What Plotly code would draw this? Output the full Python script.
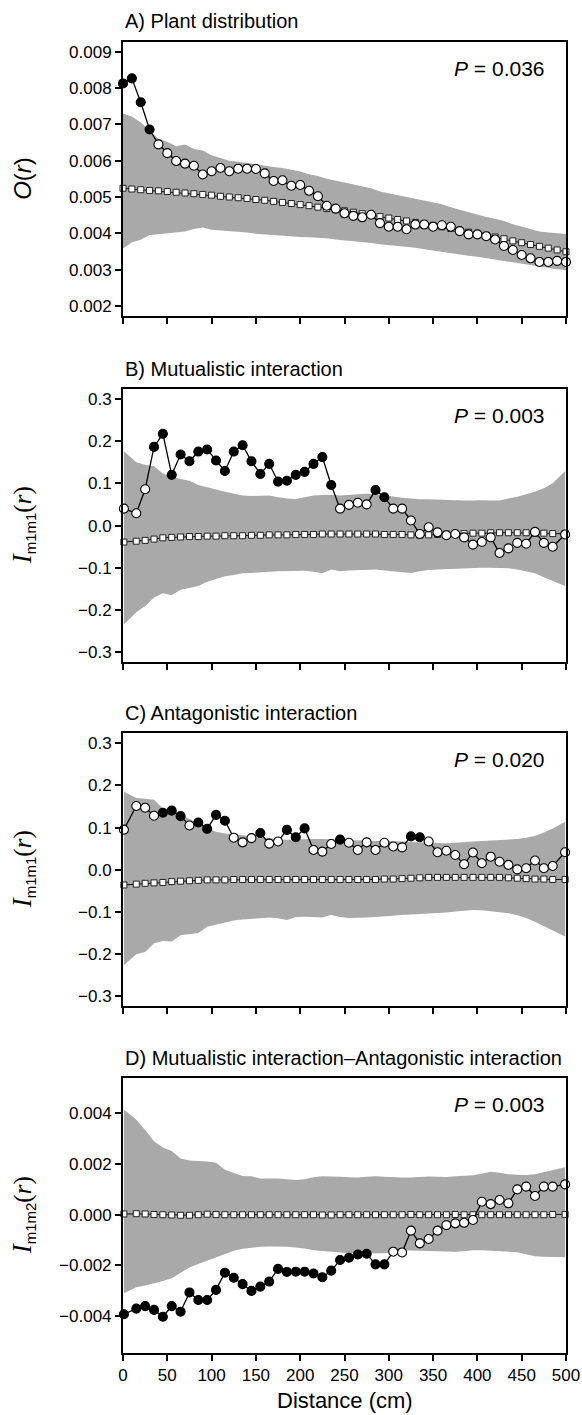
import plotly.graph_objects as go

# ---------------- data ----------------
R_A = list(range(0, 501, 10))                      # 51 distances, panel A
R_BIV = [1] + list(range(15, 486, 10)) + [499]     # 50 distances, panels B-D

OBS_A = [0.00813, 0.00827, 0.00761, 0.00686, 0.00645, 0.00621, 0.00599, 0.00592, 0.00586, 0.00562,
         0.00571, 0.00580, 0.00571, 0.00578, 0.00578, 0.00577, 0.00565, 0.00544, 0.00546, 0.00531,
         0.00533, 0.00517, 0.00502, 0.00476, 0.00468, 0.00455, 0.00448, 0.00444, 0.00451, 0.00428,
         0.00418, 0.00418, 0.00411, 0.00424, 0.00424, 0.00418, 0.00422, 0.00418, 0.00406, 0.00397,
         0.00397, 0.00392, 0.00383, 0.00365, 0.00354, 0.00340, 0.00331, 0.00321, 0.00321, 0.00324,
         0.00321]
EXP_A = [0.00524, 0.00522, 0.00520, 0.00518, 0.00517, 0.00515, 0.00513, 0.00511, 0.00509, 0.00507,
         0.00505, 0.00502, 0.00500, 0.00498, 0.00496, 0.00493, 0.00491, 0.00488, 0.00485, 0.00482,
         0.00479, 0.00476, 0.00472, 0.00468, 0.00465, 0.00462, 0.00458, 0.00454, 0.00450, 0.00446,
         0.00442, 0.00438, 0.00434, 0.00430, 0.00426, 0.00422, 0.00418, 0.00413, 0.00408, 0.00403,
         0.00398, 0.00394, 0.00390, 0.00385, 0.00379, 0.00374, 0.00369, 0.00364, 0.00359, 0.00354,
         0.00349]
HI_A = [0.00730, 0.00722, 0.00705, 0.00684, 0.00660, 0.00652, 0.00640, 0.00645, 0.00632, 0.00628,
        0.00615, 0.00607, 0.00600, 0.00597, 0.00593, 0.00590, 0.00585, 0.00583, 0.00580, 0.00576,
        0.00570, 0.00563, 0.00558, 0.00550, 0.00545, 0.00540, 0.00535, 0.00528, 0.00524, 0.00515,
        0.00510, 0.00505, 0.00500, 0.00495, 0.00490, 0.00485, 0.00480, 0.00472, 0.00465, 0.00458,
        0.00450, 0.00445, 0.00440, 0.00434, 0.00425, 0.00418, 0.00412, 0.00405, 0.00402, 0.00400,
        0.00398]
LO_A = [0.00358, 0.00375, 0.00382, 0.00395, 0.00397, 0.00400, 0.00401, 0.00405, 0.00412, 0.00416,
        0.00410, 0.00408, 0.00407, 0.00406, 0.00402, 0.00399, 0.00397, 0.00394, 0.00392, 0.00390,
        0.00390, 0.00389, 0.00388, 0.00386, 0.00383, 0.00381, 0.00378, 0.00376, 0.00373, 0.00370,
        0.00368, 0.00366, 0.00363, 0.00360, 0.00356, 0.00352, 0.00349, 0.00345, 0.00342, 0.00338,
        0.00335, 0.00331, 0.00327, 0.00323, 0.00319, 0.00316, 0.00312, 0.00308, 0.00304, 0.00301,
        0.00299]
SIG_A = [1, 1, 1, 1] + [0] * 47

OBS_B = [0.040, 0.029, 0.086, 0.186, 0.217, 0.120, 0.168, 0.152, 0.175, 0.180,
         0.154, 0.129, 0.175, 0.190, 0.152, 0.122, 0.146, 0.104, 0.106, 0.120,
         0.127, 0.146, 0.162, 0.096, 0.040, 0.049, 0.054, 0.050, 0.084, 0.067,
         0.040, 0.040, 0.012, -0.020, -0.004, -0.016, -0.023, -0.020, -0.028, -0.045,
         -0.039, -0.028, -0.065, -0.054, -0.041, -0.043, -0.015, -0.041, -0.050, -0.021]
EXP_B = [-0.039, -0.037, -0.035, -0.032, -0.029, -0.028, -0.027, -0.026, -0.026, -0.025,
         -0.025, -0.024, -0.024, -0.024, -0.023, -0.023, -0.022, -0.022, -0.022, -0.021,
         -0.021, -0.021, -0.020, -0.020, -0.020, -0.020, -0.020, -0.020, -0.020, -0.021,
         -0.021, -0.021, -0.022, -0.023, -0.022, -0.021, -0.020, -0.019, -0.019, -0.018,
         -0.018, -0.017, -0.017, -0.017, -0.017, -0.017, -0.018, -0.018, -0.019, -0.019]
HI_B = [0.176, 0.150, 0.144, 0.140, 0.123, 0.115, 0.110, 0.106, 0.096, 0.090,
        0.085, 0.080, 0.075, 0.071, 0.070, 0.070, 0.071, 0.067, 0.064, 0.063,
        0.067, 0.071, 0.072, 0.073, 0.071, 0.072, 0.073, 0.075, 0.074, 0.071,
        0.068, 0.066, 0.064, 0.062, 0.062, 0.061, 0.061, 0.060, 0.059, 0.059,
        0.060, 0.059, 0.059, 0.064, 0.068, 0.074, 0.080, 0.088, 0.100, 0.129]
LO_B = [-0.234, -0.205, -0.190, -0.170, -0.160, -0.165, -0.152, -0.148, -0.143, -0.133,
        -0.126, -0.120, -0.117, -0.113, -0.112, -0.110, -0.109, -0.108, -0.108, -0.108,
        -0.107, -0.109, -0.113, -0.104, -0.108, -0.106, -0.105, -0.104, -0.104, -0.106,
        -0.108, -0.110, -0.112, -0.108, -0.105, -0.104, -0.103, -0.102, -0.101, -0.100,
        -0.100, -0.100, -0.100, -0.101, -0.104, -0.108, -0.113, -0.122, -0.130, -0.143]
SIG_B = [0, 0, 0] + [1] * 21 + [0, 0, 0, 0, 1, 1] + [0] * 20

OBS_C = [0.095, 0.151, 0.147, 0.128, 0.135, 0.140, 0.127, 0.105, 0.112, 0.097,
         0.130, 0.116, 0.076, 0.065, 0.075, 0.087, 0.062, 0.067, 0.0945, 0.077,
         0.098, 0.047, 0.043, 0.061, 0.0715, 0.064, 0.047, 0.065, 0.047, 0.064,
         0.055, 0.053, 0.079, 0.077, 0.067, 0.0415, 0.045, 0.035, 0.013, 0.041,
         0.0155, 0.031, 0.019, 0.0115, 0.001, 0.0035, 0.022, 0.0035, 0.009, 0.0415]
EXP_C = [-0.036, -0.034, -0.032, -0.031, -0.030, -0.028, -0.027, -0.026, -0.025, -0.024,
         -0.024, -0.024, -0.023, -0.023, -0.023, -0.023, -0.023, -0.023, -0.023, -0.023,
         -0.023, -0.023, -0.023, -0.023, -0.023, -0.023, -0.023, -0.023, -0.023, -0.022,
         -0.022, -0.021, -0.020, -0.019, -0.018, -0.018, -0.018, -0.018, -0.018, -0.018,
         -0.018, -0.018, -0.018, -0.019, -0.020, -0.021, -0.022, -0.022, -0.023, -0.023]
HI_C = [0.185, 0.170, 0.168, 0.166, 0.145, 0.138, 0.130, 0.120, 0.108, 0.098,
        0.090, 0.086, 0.084, 0.082, 0.080, 0.078, 0.075, 0.072, 0.071, 0.072,
        0.073, 0.073, 0.073, 0.072, 0.071, 0.070, 0.069, 0.068, 0.068, 0.068,
        0.068, 0.067, 0.066, 0.065, 0.064, 0.063, 0.063, 0.064, 0.066, 0.067,
        0.068, 0.069, 0.070, 0.071, 0.073, 0.076, 0.080, 0.088, 0.098, 0.114]
LO_C = [-0.226, -0.200, -0.195, -0.174, -0.169, -0.170, -0.155, -0.152, -0.150, -0.135,
        -0.130, -0.124, -0.120, -0.118, -0.116, -0.114, -0.113, -0.115, -0.119, -0.112,
        -0.111, -0.112, -0.113, -0.107, -0.112, -0.114, -0.114, -0.113, -0.112, -0.110,
        -0.109, -0.107, -0.106, -0.105, -0.104, -0.103, -0.101, -0.099, -0.097, -0.095,
        -0.096, -0.098, -0.100, -0.103, -0.108, -0.114, -0.123, -0.133, -0.143, -0.158]
SIG_C = [0, 0, 0, 0, 1, 1, 1, 0, 1, 1,
         1, 1, 0, 0, 0, 1, 0, 0, 1, 1,
         1, 0, 0, 0, 1, 0, 0, 0, 0, 0,
         0, 0, 1, 1, 0, 0, 0, 0, 0, 0,
         0, 0, 0, 0, 0, 0, 0, 0, 0, 0]

OBS_D = [-0.00393, -0.00371, -0.00361, -0.00376, -0.00403, -0.00361, -0.00383, -0.00307, -0.00337, -0.00337,
         -0.00297, -0.00229, -0.00249, -0.00274, -0.00301, -0.00284, -0.00264, -0.00214, -0.00226, -0.00225,
         -0.00225, -0.00232, -0.00247, -0.00221, -0.00179, -0.00170, -0.00157, -0.00154, -0.00196, -0.00196,
         -0.00146, -0.00149, -0.00063, -0.00113, -0.00096, -0.00063, -0.00041, -0.00034, -0.00032, -0.00021,
         0.00051, 0.00042, 0.00058, 0.00045, 0.00100, 0.00111, 0.00074, 0.00111, 0.00111, 0.00120]
EXP_D = [0.00003, 0.00004, 0.00003, 0.00001, 0.0, -0.00001, -0.00002, -0.00002, 0.0, 0.00002,
         0.00001, 0.0, 0.0, 0.0, 0.0, 0.0, 0.0, 0.0, 0.0, 0.0,
         0.0, 0.0, -0.00001, -0.00001, 0.0, 0.0, 0.0, 0.0, 0.0, 0.0,
         0.0, 0.0, 0.00001, 0.0, 0.0, 0.0, 0.0, 0.00001, 0.0, 0.0,
         0.0, 0.0, 0.0, 0.0, 0.0, 0.0, 0.0, 0.0, 0.00001, 0.00001]
HI_D = [0.00416, 0.00375, 0.00335, 0.00290, 0.00265, 0.00252, 0.00222, 0.00214, 0.00212, 0.00210,
        0.00205, 0.00178, 0.00165, 0.00153, 0.00152, 0.00143, 0.00143, 0.00143, 0.00140, 0.00137,
        0.00140, 0.00148, 0.00152, 0.00152, 0.00150, 0.00148, 0.00147, 0.00150, 0.00152, 0.00150,
        0.00148, 0.00147, 0.00147, 0.00150, 0.00151, 0.00150, 0.00149, 0.00152, 0.00154, 0.00156,
        0.00162, 0.00170, 0.00166, 0.00160, 0.00158, 0.00157, 0.00160, 0.00168, 0.00175, 0.00187]
LO_D = [-0.00310, -0.00286, -0.00280, -0.00272, -0.00262, -0.00251, -0.00228, -0.00208, -0.00195, -0.00182,
        -0.00170, -0.00158, -0.00142, -0.00134, -0.00130, -0.00127, -0.00126, -0.00126, -0.00127, -0.00129,
        -0.00133, -0.00140, -0.00143, -0.00145, -0.00150, -0.00152, -0.00153, -0.00153, -0.00153, -0.00152,
        -0.00146, -0.00140, -0.00141, -0.00142, -0.00142, -0.00142, -0.00144, -0.00146, -0.00144, -0.00140,
        -0.00140, -0.00142, -0.00144, -0.00146, -0.00148, -0.00156, -0.00164, -0.00166, -0.00168, -0.00168]
SIG_D = [1] * 30 + [0] * 20

TITLES = ["A) Plant distribution", "B) Mutualistic interaction",
          "C) Antagonistic interaction", "D) Mutualistic interaction\u2013Antagonistic interaction"]
P_TEXT = ["0.036", "0.003", "0.020", "0.003"]
SERIF_I = '<span style="font-family:Liberation Serif;font-size:27px"><i>I</i></span>'
SERIF_R = '<span style="font-family:Liberation Serif;font-size:25px">(<i>r</i>)</span>'
SUB = '<sub><span style="font-size:15px">{}</span></sub>'
YLABELS = ["<i>O</i>(<i>r</i>)",
           SERIF_I + SUB.format("m1m1") + SERIF_R,
           SERIF_I + SUB.format("m1m1") + SERIF_R,
           SERIF_I + SUB.format("m1m2") + SERIF_R]
YRANGES = [[0.00172, 0.00928], [-0.322, 0.323], [-0.322, 0.324], [-0.00545, 0.0054]]
YTICKS = [[0.002, 0.003, 0.004, 0.005, 0.006, 0.007, 0.008, 0.009],
          [-0.3, -0.2, -0.1, 0.0, 0.1, 0.2, 0.3],
          [-0.3, -0.2, -0.1, 0.0, 0.1, 0.2, 0.3],
          [-0.004, -0.002, 0.0, 0.002, 0.004]]
YFMT = [".3f", ".1f", ".1f", ".3f"]
X_TICKS = list(range(0, 501, 50))

# ---------------- figure ----------------
W, H = 582, 1415
L, R = 123, 16
PANEL_PX = [(41.7, 316.0), (389.0, 661.7), (733.0, 1005.7), (1078.0, 1352.7)]
FONT = "Liberation Sans, Arial, sans-serif"
GRAY = "#a9a9a9"

panels = [
    (R_A, OBS_A, EXP_A, HI_A, LO_A, SIG_A),
    (R_BIV, OBS_B, EXP_B, HI_B, LO_B, SIG_B),
    (R_BIV, OBS_C, EXP_C, HI_C, LO_C, SIG_C),
    (R_BIV, OBS_D, EXP_D, HI_D, LO_D, SIG_D),
]

fig = go.Figure()
layout = dict(
    width=W, height=H, margin=dict(l=L, r=R, t=0, b=0),
    paper_bgcolor="white", plot_bgcolor="white", showlegend=False,
    font=dict(family=FONT, color="black", size=17),
)
annotations = []

for i, (rx, obs, exp, hi, lo, sig) in enumerate(panels):
    n = i + 1
    xa = "x" if n == 1 else f"x{n}"
    ya = "y" if n == 1 else f"y{n}"
    top, bot = PANEL_PX[i]
    dom = [1 - bot / H, 1 - top / H]

    fig.add_trace(go.Scatter(x=rx, y=lo, mode="lines", line=dict(width=0, color=GRAY),
                             xaxis=xa, yaxis=ya, hoverinfo="skip"))
    fig.add_trace(go.Scatter(x=rx, y=hi, mode="lines", line=dict(width=0, color=GRAY),
                             fill="tonexty", fillcolor=GRAY, xaxis=xa, yaxis=ya, hoverinfo="skip"))
    fig.add_trace(go.Scatter(x=rx, y=exp, mode="lines+markers",
                             line=dict(color="#111111", width=1),
                             marker=dict(symbol="square", size=6, color="white",
                                         line=dict(color="#222222", width=1)),
                             xaxis=xa, yaxis=ya, cliponaxis=False))
    fig.add_trace(go.Scatter(x=rx, y=obs, mode="lines+markers",
                             line=dict(color="black", width=1.3),
                             marker=dict(symbol="circle", size=9,
                                         color=["black" if s else "white" for s in sig],
                                         line=dict(color="black", width=1.1)),
                             xaxis=xa, yaxis=ya, cliponaxis=False))

    xkey = "xaxis" if n == 1 else f"xaxis{n}"
    ykey = "yaxis" if n == 1 else f"yaxis{n}"
    layout[xkey] = dict(
        domain=[0, 1], range=[0, 500], anchor=ya, tickmode="array", tickvals=X_TICKS,
        ticks="outside", ticklen=6, tickwidth=1.5, tickcolor="black",
        showline=True, linecolor="black", linewidth=2, mirror=True,
        showgrid=False, zeroline=False, showticklabels=(n == 4),
        tickfont=dict(size=17, family=FONT), automargin=False,
    )
    layout[ykey] = dict(
        domain=dom, range=YRANGES[i], anchor=xa, tickmode="array", tickvals=YTICKS[i],
        tickformat=YFMT[i], ticks="outside", ticklen=6, tickwidth=1.5, tickcolor="black",
        showline=True, linecolor="black", linewidth=2, mirror=True,
        showgrid=False, zeroline=False, tickfont=dict(size=17, family=FONT),
        automargin=False,
    )

    ph = bot - top
    annotations.append(dict(text=TITLES[i], xref="paper", yref=f"{ya} domain",
                            x=0, y=1 + 20.5 / ph, xanchor="left", yanchor="middle",
                            showarrow=False, font=dict(size=20, family=FONT)))
    annotations.append(dict(text="<i>P</i> = " + P_TEXT[i], xref="paper", yref=f"{ya} domain",
                            x=(547 - L) / (W - L - R), y=1 - 26.5 / ph,
                            xanchor="right", yanchor="middle",
                            showarrow=False, font=dict(size=21, family=FONT)))
    annotations.append(dict(text=YLABELS[i], xref="paper", yref=f"{ya} domain",
                            x=(23 - L) / (W - L - R), y=0.5, textangle=-90,
                            xanchor="center", yanchor="middle",
                            showarrow=False, font=dict(size=24, family=FONT)))

annotations.append(dict(text="Distance (cm)", xref="paper", yref="y4 domain",
                        x=0.5, y=-48 / (PANEL_PX[3][1] - PANEL_PX[3][0]),
                        xanchor="center", yanchor="middle", showarrow=False,
                        font=dict(size=22, family=FONT)))
layout["annotations"] = annotations
fig.update_layout(**layout)
fig.write_html("out.html", config={"displayModeBar": False},
               post_script="document.body.style.margin='0px';document.body.style.overflow='hidden';")
